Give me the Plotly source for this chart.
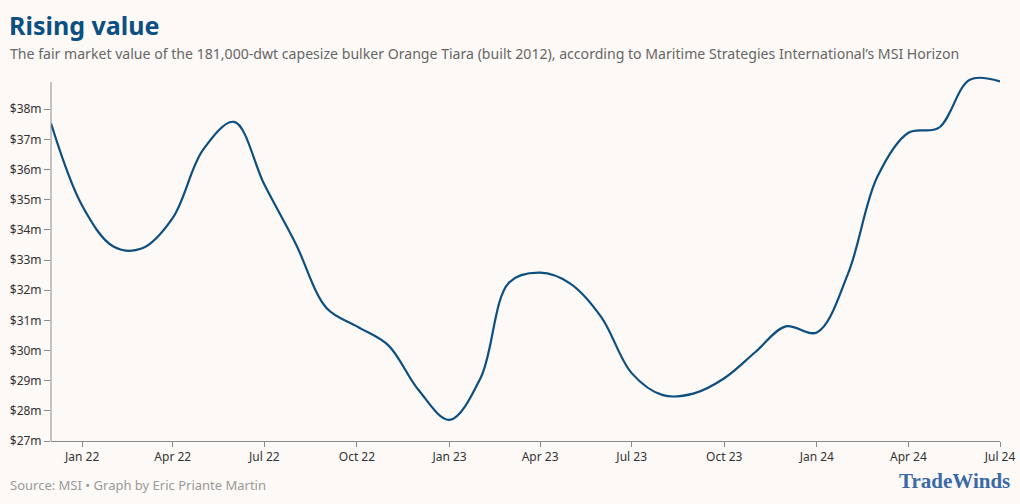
"""Rising value: fair market value of the capesize bulker Orange Tiara"""

import plotly.graph_objects as go

# monthly values, $m
months = [
    "2021-12-01",
    "2022-01-01", "2022-02-01", "2022-03-01", "2022-04-01", "2022-05-01", "2022-06-01",
    "2022-07-01", "2022-08-01", "2022-09-01", "2022-10-01", "2022-11-01", "2022-12-01",
    "2023-01-01", "2023-02-01", "2023-03-01", "2023-04-01", "2023-05-01", "2023-06-01",
    "2023-07-01", "2023-08-01", "2023-09-01", "2023-10-01", "2023-11-01", "2023-12-01",
    "2024-01-01", "2024-02-01", "2024-03-01", "2024-04-01", "2024-05-01", "2024-06-01",
    "2024-07-01",
]
value_m = [
    37.53,
    34.80, 33.45, 33.38, 34.40, 36.65, 37.58,
    35.50, 33.55, 31.40, 30.80, 30.18, 28.70,
    27.70, 29.10, 32.25, 32.58, 32.22, 31.10,
    29.25, 28.52, 28.58, 29.08, 29.95, 30.80,
    30.60, 32.55, 35.75, 37.22, 37.38, 38.98,
    38.92,
]
y_ticks = list(range(27, 39))
y_tick_text = [f"${v}m" for v in y_ticks]

bg = "#fdf9f6"
blue = "#0d4f80"
axis_grey = "#8a8a8a"

# plot area in pixels, used to place the header/footer texts
left, right, top, bottom = 51, 20, 70, 63
plot_w = 1020 - left - right
plot_h = 504 - top - bottom


def px_x(x):
    return (x - left) / plot_w


def px_y(y):
    return (504 - bottom - y) / plot_h


fig = go.Figure()
fig.add_trace(
    go.Scatter(
        x=months,
        y=value_m,
        mode="lines",
        line=dict(color=blue, width=2.2, shape="spline", smoothing=1.0),
        hoverinfo="skip",
    )
)

fig.update_layout(
    width=1020,
    height=504,
    paper_bgcolor=bg,
    plot_bgcolor=bg,
    showlegend=False,
    margin=dict(l=left, r=right, t=top, b=bottom, autoexpand=False),
    font=dict(family="Source Sans Pro, Noto Sans, sans-serif", color="#333333", size=12),
)

fig.update_xaxes(
    type="date",
    range=["2021-12-01", "2024-07-01"],
    tick0="2022-01-01",
    dtick="M3",
    tickformat="%b %y",
    ticks="outside",
    ticklen=5,
    tickcolor=axis_grey,
    showline=True,
    linecolor=axis_grey,
    linewidth=1,
    showgrid=False,
    zeroline=False,
    automargin=False,
    tickfont=dict(size=12, color="#333333"),
)
fig.update_yaxes(
    range=[27, 39.3],
    tickmode="array",
    tickvals=y_ticks,
    ticktext=y_tick_text,
    ticks="outside",
    ticklen=6,
    tickcolor=axis_grey,
    showline=False,
    showgrid=False,
    zeroline=False,
    automargin=False,
    tickfont=dict(size=12, color="#333333"),
)

# y axis line stops a little below the top of the plot
fig.add_shape(
    type="line", xref="paper", yref="y", x0=0, x1=0, y0=27, y1=38.9,
    line=dict(color=axis_grey, width=1),
)

fig.add_annotation(
    text="<b>Rising value</b>", xref="paper", yref="paper", x=px_x(7), y=px_y(6),
    xanchor="left", yanchor="top", showarrow=False,
    font=dict(size=25, color="#0b5083", family="Noto Sans, sans-serif"),
)
fig.add_annotation(
    text="The fair market value of the 181,000-dwt capesize bulker Orange Tiara (built 2012), "
         "according to Maritime Strategies International\u2019s MSI Horizon",
    xref="paper", yref="paper", x=px_x(8), y=px_y(42), xanchor="left", yanchor="top",
    showarrow=False, font=dict(size=14.1, color="#666666"),
)
fig.add_annotation(
    text="Source: MSI \u2022 Graph by Eric Priante Martin",
    xref="paper", yref="paper", x=px_x(8), y=px_y(474), xanchor="left", yanchor="top",
    showarrow=False, font=dict(size=13, color="#999999"),
)
fig.add_annotation(
    text="<b>TradeWinds</b>",
    xref="paper", yref="paper", x=px_x(1012), y=px_y(467), xanchor="right", yanchor="top",
    showarrow=False, font=dict(size=21, color="#3a6aa6", family="Liberation Serif, serif"),
)

fig.write_html(
    "out.html",
    config={"displayModeBar": False},
    post_script="document.body.style.margin='0';document.body.style.background='%s';" % bg,
)
